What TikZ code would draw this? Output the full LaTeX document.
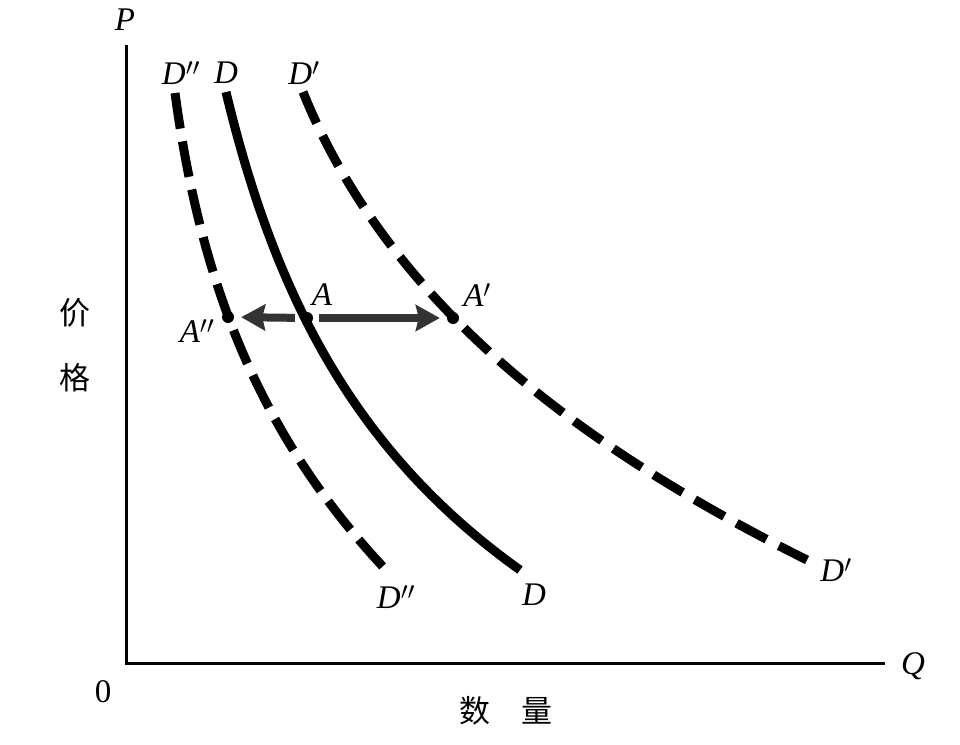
\documentclass[tikz,border=0pt]{standalone}
\usepackage{fontspec}
\setmainfont{Liberation Serif}
\newfontfamily\cjk{Noto Sans CJK SC}
\usetikzlibrary{arrows.meta}
\begin{document}
\begin{tikzpicture}[x=1pt,y=-1pt,
  axisline/.style={line width=3pt},
  curvesolid/.style={line width=9pt},
  curvedash/.style={line width=9pt,dash pattern=on 34pt off 14pt},
  lbl/.style={font=\fontsize{33}{33}\selectfont\itshape,inner sep=0pt},
  cjklbl/.style={font=\fontsize{31}{31}\selectfont\cjk,inner sep=0pt},
  pt/.style={circle,fill=black,inner sep=0pt,minimum size=12pt},
  shift arrow/.style={line width=8pt,draw=black!80,
     -{Stealth[length=24pt,width=26pt,inset=3pt]},shorten <=6pt,shorten >=7pt}]
\useasboundingbox (0,0) rectangle (960,744);
% axes
\coordinate (O) at (126,663);
\coordinate (ytop) at (126,45);
\coordinate (xend) at (885,663);
\draw[axisline] (ytop) -- (O) -- (xend);
\node[lbl] (P) at (125,20) {P};
\node[lbl] (Q) at (913,666) {Q};
\node[inner sep=0pt,font=\fontsize{33}{33}\selectfont] (zero) at (103,692) {0};
\node[cjklbl] (jia) at (75,313) {价};
\node[cjklbl] (ge) at (75,378) {格};
\node[cjklbl] (shu) at (475,711) {数};
\node[cjklbl] (liang) at (537,711) {量};
% curves
\draw[curvedash,dash pattern=on 36pt off 13pt] (175,93) .. controls (202,293) and (264,440) .. (386,570);
\draw[curvesolid] (226,92) .. controls (274,292) and (352,450) .. (520,570);
\draw[curvedash] (303,92) .. controls (395,320) and (607,460) .. (807,560);
% curve labels
\node[lbl] (Dpptop) at (181,73) {D$''$};
\node[lbl] (Dtop) at (226,73) {D};
\node[lbl] (Dptop) at (304,73) {D$'$};
\node[lbl] (Dppbot) at (396,597) {D$''$};
\node[lbl] (Dbot) at (534,595) {D};
\node[lbl] (Dpbot) at (836,570) {D$'$};
% points
\node[pt] (App) at (228,317) {};
\node[pt] (A) at (307,318) {};
\node[pt] (Ap) at (453,318) {};
\node[lbl] (lA) at (322,295) {A};
\node[lbl] (lAp) at (477,295) {A$'$};
\node[lbl] (lApp) at (197,331) {A$''$};
% shift arrows
\draw[shift arrow] (A) -- (App);
\draw[shift arrow] (A) -- (Ap);
\end{tikzpicture}
\end{document}
